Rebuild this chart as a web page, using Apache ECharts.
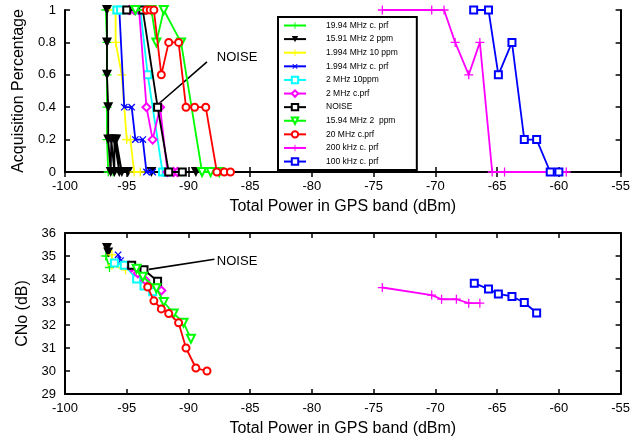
<!DOCTYPE html>
<html>
<head>
<meta charset="utf-8">
<script src="https://cdn.jsdelivr.net/npm/echarts@6/dist/echarts.min.js"></script>
<style>
  html, body { margin: 0; padding: 0; background: #fff; }
  #chart { width: 633px; height: 438px; }
</style>
</head>
<body>
<div id="chart"></div>
<script>
(() => {
    const FONT = "'Liberation Sans', Arial, sans-serif";

    const names = [
        "19.94 MHz c. prf", "15.91 MHz 2 ppm", "1.994 MHz 10 ppm", "1.994 MHz c. prf",
        "2 MHz 10ppm", "2 MHz c.prf", "NOISE", "15.94 MHz 2  ppm", "20 MHz c.prf",
        "200 kHz c. prf", "100 kHz c. prf"
    ];
    const xTicks = { min: -100, max: -55, interval: 5 };

    // acquisition percentage vs total power (top panel), [dBm, fraction]
    const acq1994Prf = [[-96.7,1],[-96.6,0.8],[-96.6,0.6],[-96.6,0.4],[-96.6,0.2],[-96.5,0],[-96.1,0]];
    const acq1591Ppm = [[-96.6,1],[-96.6,0.8],[-96.6,0.6],[-96.5,0.4],[-96.5,0.2],[-96.3,0],[-96.25,0.2],
                        [-96.0,0],[-96.0,0.2],[-95.6,0],[-95.85,0.2],[-95.4,0],[-94.9,0],[-93.0,0],[-89.4,0]];
    const acq1994Ppm = [[-96.1,1],[-95.9,1],[-95.9,0.8],[-95.4,0.6],[-95.0,0.2],[-94.7,0.2],[-94.4,0],[-93.9,0]];
    const acq1994CPrf = [[-95.6,1],[-95.2,0.4],[-94.6,0.4],[-94.3,0.2],[-93.7,0.2],[-93.4,0],[-92.9,0]];
    const acq2Ppm = [[-95.8,1],[-95.5,1],[-93.9,1],[-93.3,0.6],[-92.1,0],[-91.8,0]];
    const acq2Prf = [[-94.8,1],[-94.4,1],[-94.0,1],[-93.4,0.4],[-92.9,0.2],[-92.3,0.4],[-91.7,0],[-91.2,0],[-90.9,0]];
    const acqNoise = [[-95.0,1],[-93.7,1],[-92.5,0.4],[-91.6,0],[-90.5,0]];
    const acq1594Ppm = [[-94.3,1],[-93.0,1],[-92.6,0.8],[-92.0,1],[-90.6,0.8],[-88.9,0],[-88.2,0],[-87.5,0]];
    const acq20Prf = [[-93.4,1],[-93.1,1],[-92.8,1],[-92.2,0.6],[-91.6,0.8],[-90.8,0.8],[-90.2,0.4],
                      [-89.5,0.4],[-88.6,0.4],[-87.7,0],[-87.1,0],[-86.6,0]];
    const acq200k = [[-74.3,1],[-70.3,1],[-69.3,1],[-68.4,0.8],[-67.3,0.6],[-66.4,0.8],[-65.4,0],[-64.4,0],[-59.4,0]];
    const acq100k = [[-66.9,1],[-65.7,1],[-64.9,0.6],[-63.8,0.8],[-62.8,0.2],[-61.8,0.2],[-60.7,0],[-60.0,0]];

    // CNo vs total power (bottom panel), [dBm, dB]
    const cno1994Prf = [[-96.7,35.0],[-96.4,34.5]];
    const cno1591Ppm = [[-96.6,35.35],[-96.5,35.15]];
    const cno1994Ppm = [[-96.2,35.05],[-96.2,34.6],[-95.1,34.4]];
    const cno1994CPrf = [[-95.7,35.05],[-95.5,34.8],[-95.0,34.65]];
    const cno2Ppm = [[-96.0,34.7],[-95.2,34.6],[-94.2,34.0],[-93.6,33.7],[-92.9,33.45]];
    const cno2Prf = [[-94.6,34.5],[-94.1,34.25],[-93.5,33.95],[-92.2,33.5]];
    const cnoNoise = [[-94.6,34.6],[-93.6,34.4],[-92.5,33.9]];
    const cno1594Ppm = [[-94.2,34.45],[-93.7,34.1],[-92.6,33.6],[-92.0,33.0],[-91.2,32.5],[-90.4,32.1],[-89.8,31.4]];
    const cno20Prf = [[-93.3,33.65],[-92.8,33.05],[-92.2,32.7],[-91.6,32.5],[-90.8,32.1],[-90.2,31.0],[-89.4,30.13],[-88.5,30.0]];
    const cno200k = [[-74.3,33.63],[-70.3,33.3],[-69.5,33.12],[-68.3,33.12],[-67.3,32.95],[-66.4,32.95]];
    const cno100k = [[-66.85,33.82],[-65.7,33.56],[-64.9,33.35],[-63.8,33.24],[-62.8,32.98],[-61.8,32.52]];

    const PLUS = 'path://M-1,-0.14L-0.14,-0.14L-0.14,-1L0.14,-1L0.14,-0.14L1,-0.14L1,0.14L0.14,0.14L0.14,1L-0.14,1L-0.14,0.14L-1,0.14Z';

    // per-series look, in legend order
    const looks = [
        { color: '#00ff00', symbol: PLUS, size: 9 },
        { color: '#000000', symbol: 'triangle', size: 10, rotate: 180 },
        { color: '#ffff00', symbol: PLUS, size: 9 },
        { color: '#0000ff', symbol: PLUS, size: 9, rotate: 45 },
        { color: '#00ffff', symbol: 'emptyRect', size: 7 },
        { color: '#ff00ff', symbol: 'emptyDiamond', size: 8 },
        { color: '#000000', symbol: 'emptyRect', size: 7 },
        { color: '#00ff00', symbol: 'emptyTriangle', size: 8, rotate: 180 },
        { color: '#ff0000', symbol: 'emptyCircle', size: 7 },
        { color: '#ff00ff', symbol: PLUS, size: 9 },
        { color: '#0000ff', symbol: 'emptyRect', size: 7 }
    ];

    const acqSets = [acq1994Prf, acq1591Ppm, acq1994Ppm, acq1994CPrf, acq2Ppm, acq2Prf,
                     acqNoise, acq1594Ppm, acq20Prf, acq200k, acq100k];
    const cnoSets = [cno1994Prf, cno1591Ppm, cno1994Ppm, cno1994CPrf, cno2Ppm, cno2Prf,
                     cnoNoise, cno1594Ppm, cno20Prf, cno200k, cno100k];

    function line(i, data, panel) {
        let l = looks[i];
        return {
            name: names[i],
            type: 'line',
            xAxisIndex: panel * 2,
            yAxisIndex: panel * 2,
            data: data,
            clip: false,
            symbol: l.symbol,
            symbolSize: l.size,
            symbolRotate: l.rotate || 0,
            showAllSymbol: true,
            lineStyle: { color: l.color, width: 1.8 },
            itemStyle: { color: l.color, borderColor: l.color, borderWidth: l.symbol.startsWith('empty') ? 1.6 : 0 },
            emphasis: { disabled: true },
            z: 3 + i
        };
    }

    function noiseNote(panel, arrowFrom, arrowTo, textAt) {
        return {
            type: 'line', xAxisIndex: panel * 2, yAxisIndex: panel * 2, data: [], silent: true,
            markLine: {
                silent: true, animation: false,
                symbol: ['none', 'arrow'], symbolSize: [0, 9],
                lineStyle: { color: '#000', width: 1.6, type: 'solid' },
                label: { show: false },
                data: [[{ coord: arrowFrom }, { coord: arrowTo }]]
            },
            markPoint: {
                silent: true, animation: false,
                symbol: 'circle', symbolSize: 0,
                label: { show: true, position: 'right', distance: 0, formatter: 'NOISE',
                         color: '#000', fontSize: 13, fontFamily: FONT },
                data: [{ coord: textAt }]
            }
        };
    }

    let series = [];
    acqSets.forEach((d, i) => series.push(line(i, d, 0)));
    cnoSets.forEach((d, i) => series.push(line(i, d, 1)));
    series.push(noiseNote(0, [-88.5, 0.68], [-92.5, 0.415], [-87.7, 0.71]));
    series.push(noiseNote(1, [-87.9, 34.86], [-93.2, 34.42], [-87.7, 34.78]));

    const frame = { show: true, lineStyle: { color: '#000', width: 2 } };
    const tick = { show: true, inside: true, length: 5, lineStyle: { color: '#000', width: 1.5 } };
    const label = { color: '#000', fontSize: 13, fontFamily: FONT };
    const nameStyle = { color: '#000', fontSize: 16, fontFamily: FONT };

    function xPair(grid) {
        return [
            Object.assign({ type: 'value', gridIndex: grid, position: 'bottom', axisLine: frame, axisTick: tick,
                axisLabel: Object.assign({ margin: 8 }, label), splitLine: { show: false },
                name: 'Total Power in GPS band (dBm)', nameLocation: 'middle', nameGap: 27,
                nameTextStyle: nameStyle }, xTicks),
            Object.assign({ type: 'value', gridIndex: grid, position: 'top', axisLine: frame, axisTick: tick,
                axisLabel: { show: false }, splitLine: { show: false } }, xTicks)
        ];
    }

    function yPair(grid, min, max, interval, name, gap) {
        return [
            { type: 'value', gridIndex: grid, position: 'left', min: min, max: max, interval: interval,
              axisLine: frame, axisTick: tick, axisLabel: Object.assign({ margin: 9 }, label),
              splitLine: { show: false }, name: name, nameLocation: 'middle', nameGap: gap,
              nameTextStyle: nameStyle },
            { type: 'value', gridIndex: grid, position: 'right', min: min, max: max, interval: interval,
              axisLine: frame, axisTick: tick, axisLabel: { show: false }, splitLine: { show: false } }
        ];
    }

    let myChart = echarts.init(document.getElementById('chart'), null, { renderer: 'canvas' });
    let option = {
        animation: false,
        backgroundColor: '#fff',
        grid: [
            { left: 65, right: 8, top: 10, height: 162 },
            { left: 65, right: 8, top: 233, height: 162 }
        ],
        xAxis: xPair(0).concat(xPair(1)),
        yAxis: yPair(0, 0, 1, 0.2, 'Acquisition Percentage', 38)
            .concat(yPair(1, 29, 36, 1, 'CNo (dB)', 30)),
        legend: {
            data: names,
            orient: 'vertical',
            left: 278, top: 17,
            itemWidth: 22, itemHeight: 8, itemGap: 4.6,
            padding: [4, 19, 4, 5],
            borderColor: '#000', borderWidth: 2,
            backgroundColor: '#fff',
            selectedMode: false,
            textStyle: { color: '#000', fontSize: 8.5, lineHeight: 8.5, fontFamily: FONT, padding: [0, 0, 0, 15] },
            z: 20
        },
        series: series
    };
    myChart.setOption(option);
})();
</script>
</body>
</html>
